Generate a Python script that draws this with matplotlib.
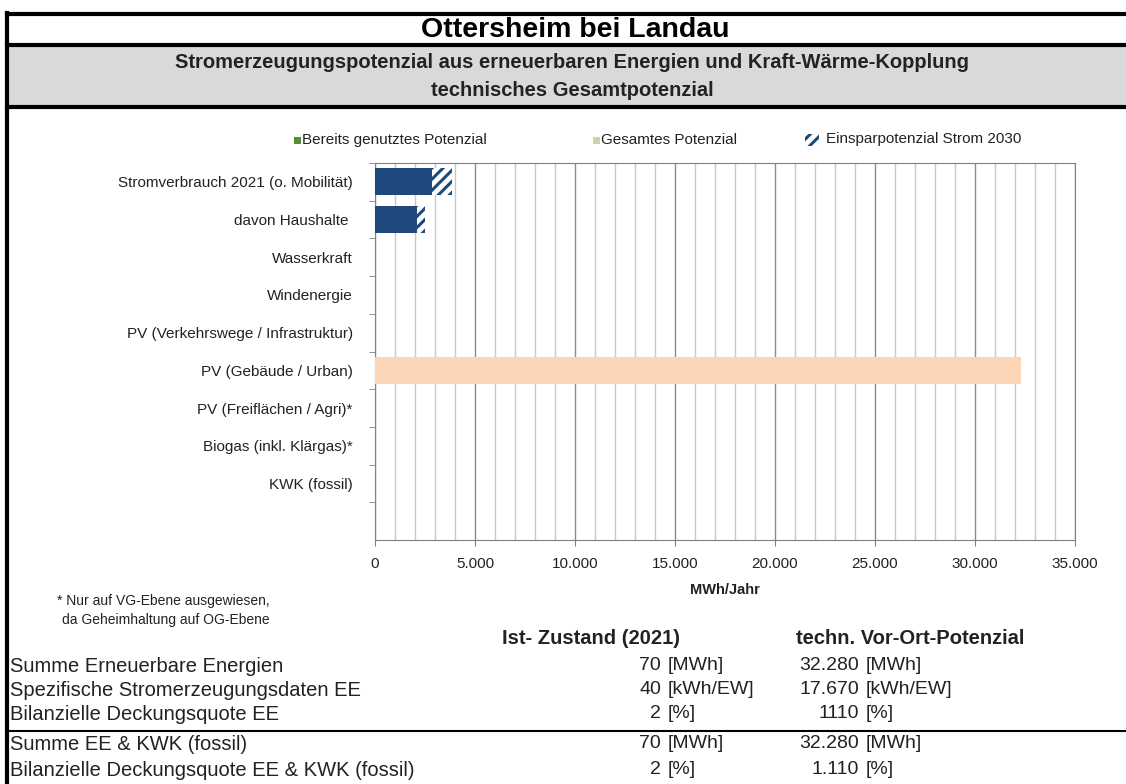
import matplotlib
matplotlib.use("Agg")
import matplotlib.pyplot as plt
from matplotlib.patches import Rectangle
from matplotlib.lines import Line2D
from matplotlib.ticker import FuncFormatter, MultipleLocator

plt.rcParams['font.family'] = ['Liberation Sans', 'DejaVu Sans']
plt.rcParams['hatch.color'] = '#1f497d'
plt.rcParams['hatch.linewidth'] = 2.2

W, H = 1126, 784

# Kategorien und Werte (MWh/Jahr)
kategorien = ["Stromverbrauch 2021 (o. Mobilität)", "davon Haushalte ", "Wasserkraft",
              "Windenergie", "PV (Verkehrswege / Infrastruktur)", "PV (Gebäude / Urban)",
              "PV (Freiflächen / Agri)*", "Biogas (inkl. Klärgas)*", "KWK (fossil)", ""]
verbrauch = [2850, 2100, 0, 0, 0, 0, 0, 0, 0, 0]
einsparung = [1000, 400, 0, 0, 0, 0, 0, 0, 0, 0]
genutzt = [0, 0, 0, 0, 0, 0, 0, 0, 0, 0]
potenzial = [0, 0, 0, 0, 0, 32280, 0, 0, 0, 0]

zeilen = ["Summe Erneuerbare Energien", "Spezifische Stromerzeugungsdaten EE",
          "Bilanzielle Deckungsquote EE", "Summe EE & KWK (fossil)",
          "Bilanzielle Deckungsquote EE & KWK (fossil)"]
ist_werte = ["70", "40", "2", "70", "2"]
pot_werte = ["32.280", "17.670", "1110", "32.280", "1.110"]
einheiten = ["[MWh]", "[kWh/EW]", "[%]", "[MWh]", "[%]"]


def fx(x):
    return x / W


def fy(y):
    return 1 - y / H


fig = plt.figure(figsize=(W / 100, H / 100), dpi=100)

# Rahmen und Kopfzeilen
fig.patches.append(Rectangle((fx(8), fy(107)), fx(W - 8), (107 - 45) / H,
                             transform=fig.transFigure, facecolor='#d9d9d9', edgecolor='none'))
for y, lw in [(14, 3), (45, 3), (107, 3), (731, 1.5)]:
    fig.add_artist(Line2D([fx(7), 1], [fy(y), fy(y)], color='black', lw=lw,
                          transform=fig.transFigure))
fig.add_artist(Line2D([fx(7.5), fx(7.5)], [fy(13), 0], color='black', lw=3,
                      transform=fig.transFigure))

fig.text(fx(575), fy(30), "Ottersheim bei Landau", ha='center', va='center',
         fontsize=20.5, fontweight='bold')
fig.text(fx(572), fy(62), "Stromerzeugungspotenzial aus erneuerbaren Energien und Kraft-Wärme-Kopplung",
         ha='center', va='center', fontsize=14.5, fontweight='bold', color='#222222')
fig.text(fx(572), fy(91), "technisches Gesamtpotenzial", ha='center', va='center',
         fontsize=14.5, fontweight='bold', color='#222222')

# Diagramm
ax = fig.add_axes([fx(375), fy(540), fx(1075 - 375), (540 - 163) / H])
y = list(range(len(kategorien)))
ax.barh(y, verbrauch, height=0.72, color='#1f497d', zorder=3)
ax.barh(y, einsparung, left=verbrauch, height=0.72, color='white', hatch='///',
        edgecolor='#1f497d', linewidth=0, zorder=3)
ax.barh(y, genutzt, height=0.72, color='#5b8c32', zorder=3)
ax.barh(y, potenzial, height=0.72, color='#fbd5b5', zorder=3)

ax.set_xlim(0, 35000)
ax.set_ylim(len(kategorien) - 0.5, -0.5)
ax.xaxis.set_major_locator(MultipleLocator(5000))
ax.xaxis.set_minor_locator(MultipleLocator(1000))
ax.xaxis.set_major_formatter(FuncFormatter(lambda v, p: f"{int(v):,}".replace(",", ".")))
ax.grid(axis='x', which='minor', color='#c8c8c8', lw=1, zorder=0)
ax.grid(axis='x', which='major', color='#8c8c8c', lw=1, zorder=0)
ax.set_yticks(y)
ax.set_yticklabels(kategorien, color='#222222')
ax.set_yticks([v + 0.5 for v in y[:-1]] + [-0.5], minor=True)
ax.tick_params(axis='y', which='major', length=0, pad=16, labelsize=11)
ax.tick_params(axis='y', which='minor', length=4, color='#808080')
ax.tick_params(axis='x', which='major', length=4, color='#808080', labelsize=11,
               pad=8, labelcolor='#222222')
ax.tick_params(axis='x', which='minor', length=0)
for s in ax.spines.values():
    s.set_color('#808080')
ax.set_xlabel("MWh/Jahr", fontsize=10.5, fontweight='bold', labelpad=9, color='#222222')

# Legende
leg_y = 140
fig.patches.append(Rectangle((fx(294), fy(leg_y + 4)), 7 / W, 7 / H, transform=fig.transFigure,
                             facecolor='#5b8c32', edgecolor='none'))
fig.text(fx(302), fy(leg_y), "Bereits genutztes Potenzial", va='center', fontsize=11,
         color='#222222')
fig.patches.append(Rectangle((fx(593), fy(leg_y + 4)), 7 / W, 7 / H, transform=fig.transFigure,
                             facecolor='#c4d9a6', edgecolor='none'))
fig.text(fx(601), fy(leg_y), "Gesamtes Potenzial", va='center', fontsize=11, color='#222222')
fig.patches.append(Rectangle((fx(805), fy(leg_y + 6)), 14 / W, 12 / H, transform=fig.transFigure,
                             facecolor='white', edgecolor='#1f497d', hatch='///', linewidth=0))
fig.text(fx(826), fy(leg_y - 1), "Einsparpotenzial Strom 2030", va='center', fontsize=11,
         color='#222222')

# Fußnote
fig.text(fx(57), fy(601), "* Nur auf VG-Ebene ausgewiesen,", va='center', fontsize=10,
         color='#222222')
fig.text(fx(62), fy(620), "da Geheimhaltung auf OG-Ebene", va='center', fontsize=10,
         color='#222222')

# Tabelle
fig.text(fx(591), fy(638), "Ist- Zustand (2021)", ha='center', va='center',
         fontsize=14.5, fontweight='bold', color='#222222')
fig.text(fx(910), fy(638), "techn. Vor-Ort-Potenzial", ha='center', va='center',
         fontsize=14.5, fontweight='bold', color='#222222')
for i, ty in enumerate([666, 690, 714, 744, 770]):
    fig.text(fx(10), fy(ty), zeilen[i], va='center', fontsize=14.5, color='#222222')
    fig.text(fx(661), fy(ty), ist_werte[i], ha='right', va='center', fontsize=14, color='#222222')
    fig.text(fx(668), fy(ty), einheiten[i], va='center', fontsize=14, color='#222222')
    fig.text(fx(859), fy(ty), pot_werte[i], ha='right', va='center', fontsize=14, color='#222222')
    fig.text(fx(866), fy(ty), einheiten[i], va='center', fontsize=14, color='#222222')

fig.savefig("out.png", dpi=100)
